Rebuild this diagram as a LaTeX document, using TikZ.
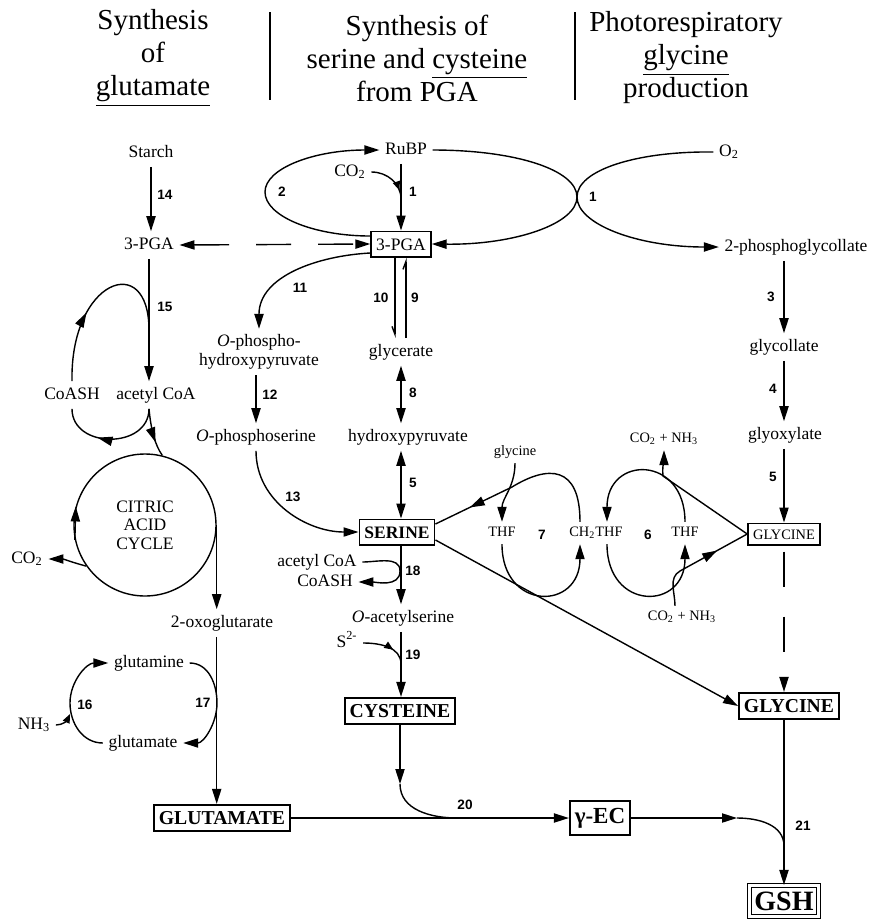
\documentclass[tikz,border=0pt]{standalone}
\usepackage{fontspec}
\setmainfont{Liberation Serif}
\newfontfamily\numfont{Liberation Sans}
\usepackage{tikz}
\usetikzlibrary{arrows.meta}
\usetikzlibrary{decorations.markings}
\usetikzlibrary{calc}

\begin{document}
\begin{tikzpicture}[x=0.5pt, y=0.5pt, line width=0.7pt,
		>={Triangle[length=7.5pt,width=4.6pt]},
		chem/.style = {font=\fontsize{8.75}{10.5}\selectfont,
			inner sep=2.5pt, text height=6.2pt, text depth=1.9pt},
		tiny/.style = {font=\fontsize{7.2}{8.5}\selectfont,
			inner sep=2pt, text height=5pt, text depth=1.5pt},
		num/.style = {font=\numfont\bfseries\fontsize{6.8}{8}\selectfont,
			inner sep=0pt},
		head/.style = {font=\fontsize{14.5}{16.5}\selectfont, align=center},
		box/.style = {draw, line width=0.9pt, inner xsep=2.5pt,
			inner ysep=3.2pt, text depth=0pt},
		bigbox/.style = {box, font=\bfseries\fontsize{9.85}{11}\selectfont,
			text height=6.8pt},
		smallbox/.style = {tiny, box, inner ysep=2.8pt, text depth=0pt},
		midarrow/.style = {postaction={decorate},
			decoration={markings, mark=at position #1 with {\arrow{>}}}},
		smallmid/.style = {postaction={decorate},
			decoration={markings, mark=at position #1 with {\arrow{Triangle[length=4.5pt,width=3.6pt]}}}},
		harpup/.style = {-{Straight Barb[left,length=4pt,width=3pt]}},
		harpdown/.style = {-{Straight Barb[right,length=4pt,width=3pt]}}]
		
		\useasboundingbox (0,0) rectangle (872,-923);
		
		% Headings
		\node[head] (hglu) at (153,-58) {Synthesis\\of\\\underline{glutamate}};
		\node[head] (hser) at (417,-58) {Synthesis of\\serine and \underline{cysteine}\\from PGA};
		\node[head] (hgly) at (686,-58) {Photorespiratory\\\underline{glycine}\\production};
		\draw[line width=0.6pt] (270,-12) -- (270,-100);
		\draw[line width=0.6pt] (575,-12) -- (575,-100);
		
		% Glutamate column
		\node[chem] (starch) at (151,-153) {Starch};
		\node[chem] (pgal) at (149,-245) {3-PGA};
		\node[chem] (coash) at (72,-395) {CoASH};
		\node[chem] (acoa) at (156,-395) {acetyl CoA};
		\node[circle, draw, minimum size=71pt, inner sep=0pt, align=center,
			font=\fontsize{8.75}{9.3}\selectfont] (tca) at (145,-525) {CITRIC\\ACID\\CYCLE};
		\node[chem] (co2c) at (27,-559) {CO\textsubscript{2}};
		\node[chem] (oxo) at (222,-623) {2-oxoglutarate};
		\node[chem] (gln) at (149,-663) {glutamine};
		\node[chem] (glu) at (143,-743) {glutamate};
		\node[chem] (nh3) at (34,-725) {NH\textsubscript{3}};
		\node[bigbox] (glut) at (222,-818) {GLUTAMATE};
		
		% Serine and cysteine column
		\node[chem] (rubp) at (406,-150) {RuBP};
		\node[chem] (co2a) at (350,-172) {CO\textsubscript{2}};
		\node[chem, box] (pga) at (401,-244) {3-PGA};
		\node[chem] (glyc) at (401,-352) {glycerate};
		\node[font=\fontsize{8.75}{9.5}\selectfont, align=center, inner sep=2.5pt]
			(oph) at (259,-352) {\textit{O}-phospho-\\hydroxypyruvate};
		\node[chem] (ops) at (256,-437) {\textit{O}-phosphoserine};
		\node[chem] (hpyr) at (408,-437) {hydroxypyruvate};
		\node[chem, box] (serine) at (397,-532) {\textbf{SERINE}};
		\node[chem] (acoa2) at (317,-562) {acetyl CoA};
		\node[chem] (coash2) at (325,-582) {CoASH};
		\node[chem] (oas) at (403,-618) {\textit{O}-acetylserine};
		\node[chem] (s2) at (347,-643) {S\textsuperscript{2-}};
		\node[bigbox] (cys) at (400,-711) {CYSTEINE};
		\node[box, font=\bfseries\fontsize{11.5}{13}\selectfont, text height=8pt,
			text depth=2.5pt] (gec) at (600,-818) {γ-EC};
		
		% Glycine column
		\node[chem] (o2) at (729,-152) {O\textsubscript{2}};
		\node[chem] (pg2) at (796,-247) {2-phosphoglycollate};
		\node[chem] (glyco) at (784,-347) {glycollate};
		\node[chem] (glyox) at (785,-435) {glyoxylate};
		\node[tiny] (co2up) at (664,-439) {CO\textsubscript{2} + NH\textsubscript{3}};
		\node[tiny] (glysm) at (515,-452) {glycine};
		\node[tiny] (thfa) at (502,-533) {THF};
		\node[tiny] (ch2thf) at (596,-533) {CH\textsubscript{2}THF};
		\node[tiny] (thfb) at (685,-533) {THF};
		\node[smallbox] (glys) at (784,-534) {GLYCINE};
		\node[tiny] (co2dn) at (682,-617) {CO\textsubscript{2} + NH\textsubscript{3}};
		\node[bigbox] (glyb) at (789,-706) {GLYCINE};
		\node[draw, double, line width=0.6pt, double distance=1.2pt, inner xsep=2.5pt,
			inner ysep=3pt, font=\bfseries\fontsize{14}{16}\selectfont, text height=9.5pt,
			text depth=0pt] (gsh) at (784,-901) {GSH};
		
		% Reaction numbers
		\node[num] (n14) at (165,-195) {14};
		\node[num] (n2) at (282,-192) {2};
		\node[num] (n1a) at (413,-192) {1};
		\node[num] (n1b) at (593,-197) {1};
		\node[num] (n11) at (300,-288) {11};
		\node[num] (n15) at (165,-307) {15};
		\node[num] (n10) at (381,-298) {10};
		\node[num] (n9) at (415,-298) {9};
		\node[num] (n3) at (771,-297) {3};
		\node[num] (n12) at (270,-395) {12};
		\node[num] (n8) at (413,-393) {8};
		\node[num] (n4) at (773,-389) {4};
		\node[num] (n13) at (293,-497) {13};
		\node[num] (n5a) at (413,-483) {5};
		\node[num] (n5b) at (773,-477) {5};
		\node[num] (n7) at (542,-535) {7};
		\node[num] (n6) at (648,-535) {6};
		\node[num] (n18) at (413,-571) {18};
		\node[num] (n19) at (413,-655) {19};
		\node[num] (n16) at (85,-705) {16};
		\node[num] (n17) at (203,-703) {17};
		\node[num] (n20) at (465,-805) {20};
		\node[num] (n21) at (803,-826) {21};
		
		% Junction points
		\coordinate (c2) at (265,-192);
		\coordinate (c1) at (401,-199);
		\coordinate (xo) at (577,-197);
		\coordinate (c15) at (149,-330);
		\coordinate (c16) at (70,-703);
		\coordinate (c16n) at (70,-714);
		\coordinate (c17) at (217,-703);
		\coordinate (c18) at (400,-571);
		\coordinate (c19) at (401,-664);
		\coordinate (c7x) at (512,-487);
		\coordinate (c6a) at (663,-476);
		\coordinate (c6b) at (680,-571);
		\coordinate (c20a) at (400,-784);
		\coordinate (c20b) at (457,-818);
		\coordinate (c21a) at (737,-818);
		\coordinate (c21b) at (784,-846);
		
		% Starch and acetyl CoA
		\draw[->] (starch.south) -- (starch.south |- pgal.north);
		\draw[<->, dash pattern=on 17.5pt off 13.5pt] (pgal.east) -- (pga.west);
		\draw[->] (pgal.south) -- (pgal.south |- acoa.north);
		\draw[midarrow=0.4] (coash.north) .. controls (70,-280) and (149,-250) .. (c15);
		\draw[midarrow=0.62] (acoa.south -| pgal) to[out=-90,in=-90,looseness=1.35] (coash.south);
		\draw[midarrow=0.7] (acoa.south -| pgal) .. controls (151,-430) and (155,-445) .. (tca.76);
		
		% Citric acid cycle
		\draw[->] (tca.192) -- (tca.165);
		\draw[->] (tca.215) to[out=165,in=0] (co2c.east);
		\draw[->] (tca.east) -- (tca.east |- oxo.north);
		\draw[->] (oxo.south -| tca.east) -- (tca.east |- glut.north);
		
		% Glutamine / glutamate
		\draw[->] (glu.west) to[out=180,in=-90] (c16) to[out=90,in=180] (gln.west);
		\draw[-{Triangle[length=4.5pt,width=3.6pt]}] (nh3.east) to[out=0,in=-115] (c16n);
		\draw[->] (gln.east) to[out=0,in=90] (c17) to[out=-90,in=0] (glu.east);
		
		% Calvin cycle and oxygenation
		\draw[->] (rubp.south -| pga) -- (pga.north);
		\draw[smallmid=0.8] (co2a.east) to[out=0,in=90] (c1);
		\draw[->] ($(pga.west)+(0,8)$) .. controls (313,-236) and (265,-216) .. (c2)
			.. controls (265,-168) and (315,-150) .. (rubp.west);
		\draw[->] (rubp.east) .. controls (516,-150) and (577,-170) .. (xo)
			.. controls (577,-224) and (637,-247) .. (pg2.west);
		\draw[->] (o2.west) .. controls (637,-151) and (577,-170) .. (xo)
			.. controls (577,-224) and (514,-245) .. (pga.east);
		
		% Serine from PGA
		\draw[->] ($(pga.west)+(0,-9)$) to[out=183,in=90] (oph.north);
		\draw[harpdown] ([xshift=-3pt]pga.south) -- ([xshift=-3pt]glyc.north);
		\draw[harpup] ([xshift=2.5pt]glyc.north) -- ([xshift=2.5pt]pga.south);
		\draw[<->] (glyc.south) -- (glyc.south |- hpyr.north);
		\draw[<->] (hpyr.south -| glyc) -- (glyc |- serine.north);
		\draw[->] (oph.south -| ops) -- (ops.north);
		\draw[->] (ops.south) to[out=-90,in=180] (serine.west);
		
		% Cysteine
		\draw[->] (serine.south -| glyc) -- (glyc |- oas.north);
		\draw[->] (acoa2.east) to[out=0,in=90] (c18) to[out=-90,in=0] (coash2.east);
		\draw[smallmid=0.65] (s2.east) to[out=0,in=90] (c19);
		\draw[->] (oas.south -| glyc) -- (glyc |- cys.north);
		
		% Photorespiration
		\draw[->] (pg2.south -| glys) -- (glys |- glyco.north);
		\draw[->] (glyco.south -| glys) -- (glys |- glyox.north);
		\draw[->] (glyox.south -| glys) -- (glys.north);
		
		% Serine hydroxymethyltransferase (7)
		\draw[->] (glysm.south) to[out=-90,in=90] (thfa.north);
		\draw[midarrow=0.8] ($(ch2thf.north)+(-16,0)$) .. controls (580,-465) and (548,-465) .. (c7x) -- ($(serine.east)+(0,8)$);
		\draw[->] (thfa.south) to[out=-90,in=-90,looseness=2.2] ($(ch2thf.south)+(-16,0)$);
		
		% Glycine decarboxylase (6)
		\draw[->] (thfb.north) to[out=90,in=90,looseness=2.2] ($(ch2thf.north)+(11,0)$);
		\draw[->] ($(ch2thf.south)+(11,0)$) to[out=-90,in=-90,looseness=2.2] (thfb.south);
		\draw[->] (glys.west) -- (c6a) to[out=95,in=-90] (co2up.south);
		\draw[midarrow=0.7] ($(co2dn.north)+(-7,0)$) to[out=90,in=210] (c6b) -- (glys.west);
		
		% Glycine pools
		\draw[->, dash pattern=on 17.5pt off 15pt, shorten <=3pt] (glys.south) -- (glys.south |- glyb.north);
		\draw[->] ($(serine.east)+(0,-8)$) -- (glyb.west);
		
		% Glutathione
		\draw[->] (cys.south) -- (c20a);
		\draw (c20a) to[out=-90,in=180] (c20b);
		\draw[->] (glut.east) -- (gec.west);
		\draw[->] (gec.east) -- (c21a);
		\draw (c21a) to[out=0,in=90] (c21b);
		\draw[->] (glyb.south -| gsh) -- (gsh.north);
	\end{tikzpicture}
\end{document}
